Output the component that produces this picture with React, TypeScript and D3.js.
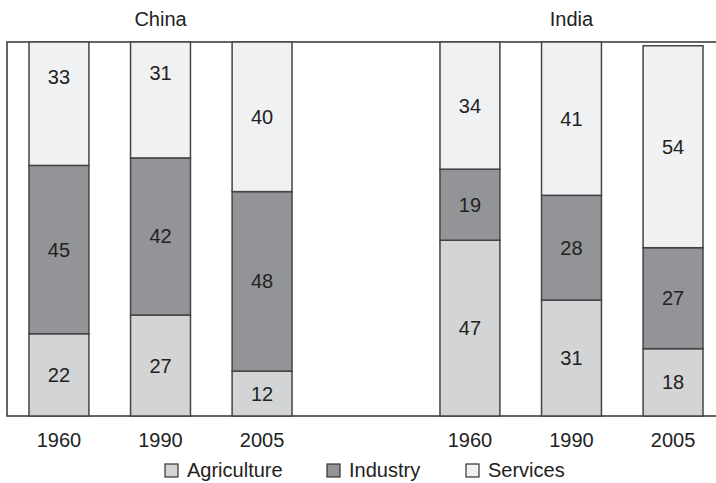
import React from "react";
import * as d3 from "d3";

const countries = ["China", "India"];
const years = ["1960", "1990", "2005"];
const sectors = ["Agriculture", "Industry", "Services"];

// Share of GDP (%) per year, stacked bottom-up: Agriculture, Industry, Services
const chinaAgriculture = [22, 27, 12];
const chinaIndustry = [45, 42, 48];
const chinaServices = [33, 31, 40];
const indiaAgriculture = [47, 31, 18];
const indiaIndustry = [19, 28, 27];
const indiaServices = [34, 41, 54];

const sectorColors = ["#d3d4d6", "#939497", "#f0f1f3"];

const W = 716;
const H = 483;

export default function App() {
  const y = d3.scaleLinear().domain([0, 100]).range([416, 42]);
  const xGroup = d3.scaleBand().domain(countries).range([29, 703]).paddingInner(0.36).paddingOuter(0);
  const xYear = d3.scaleBand().domain(years).range([0, xGroup.bandwidth()]).paddingInner(0.41).paddingOuter(0);

  const series: Record<string, number[][]> = {
    China: [chinaAgriculture, chinaIndustry, chinaServices],
    India: [indiaAgriculture, indiaIndustry, indiaServices],
  };

  // the two early China services labels sit nearer the top of their segment
  const labelLift = (country: string, year: string, sector: string) =>
    country === "China" && sector === "Services" && year !== "2005" ? 27 : 0;

  const rows = countries.flatMap((c) =>
    years.map((yr, i) => {
      const r: Record<string, number | string> = { country: c, year: yr };
      sectors.forEach((s, k) => (r[s] = series[c][k][i]));
      return r;
    })
  );
  const stacked = d3.stack<any>().keys(sectors)(rows);

  const font = "'Liberation Sans', Arial, sans-serif";
  const legendItems = [
    { x: 165, label: sectors[0] },
    { x: 327, label: sectors[1] },
    { x: 466, label: sectors[2] },
  ];

  return (
    <svg width={W} height={H} style={{ position: "absolute", left: 0, top: 0, background: "#fff" }} fontFamily={font}>
      {/* frame: left, top and bottom edges */}
      <path d={`M${W},${y(100)} H7 V${y(0)} H${W}`} fill="none" stroke="#333" strokeWidth={1.5} />

      {stacked.map((layer, k) =>
        layer.map((seg, i) => {
          const d = seg.data as any;
          const x0 = (xGroup(d.country) ?? 0) + (xYear(d.year) ?? 0);
          const bw = xYear.bandwidth();
          const top = y(seg[1]);
          const bot = y(seg[0]);
          const lift = labelLift(d.country, d.year, layer.key);
          return (
            <g key={`${k}-${i}`}>
              <rect x={x0} y={top} width={bw} height={bot - top} fill={sectorColors[k]} stroke="#444" strokeWidth={1.5} />
              <text x={x0 + bw / 2} y={(top + bot) / 2 + 7 - lift} textAnchor="middle" fontSize={20} fill="#222">
                {seg[1] - seg[0]}
              </text>
            </g>
          );
        })
      )}

      {countries.map((c) =>
        years.map((yr) => (
          <text
            key={c + yr}
            x={(xGroup(c) ?? 0) + (xYear(yr) ?? 0) + xYear.bandwidth() / 2}
            y={447}
            textAnchor="middle"
            fontSize={20}
            fill="#222"
          >
            {yr}
          </text>
        ))
      )}

      {countries.map((c) => (
        <text key={c} x={(xGroup(c) ?? 0) + xGroup.bandwidth() / 2} y={26} textAnchor="middle" fontSize={20} fill="#222">
          {c}
        </text>
      ))}

      {legendItems.map((it, k) => (
        <g key={it.label}>
          <rect x={it.x} y={464} width={13} height={13} fill={sectorColors[k]} stroke="#333" strokeWidth={1.2} />
          <text x={it.x + 22} y={477} fontSize={20} fill="#222">
            {it.label}
          </text>
        </g>
      ))}
    </svg>
  );
}
